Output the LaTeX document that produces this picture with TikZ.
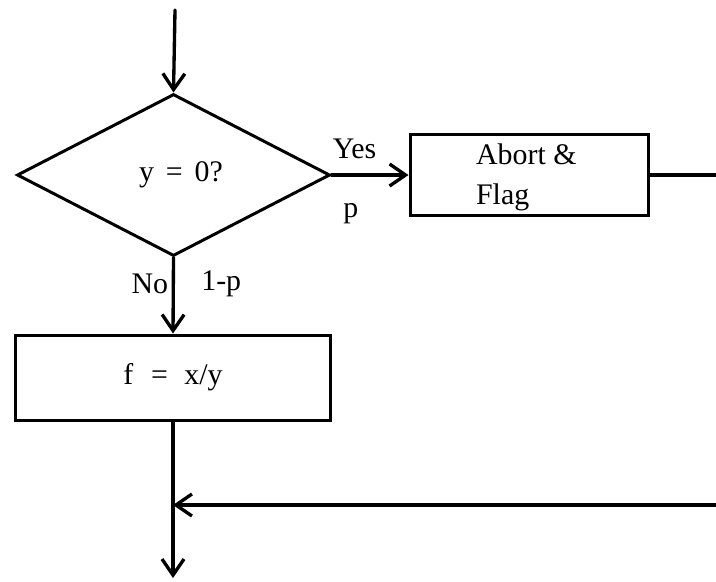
\documentclass[tikz,border=0pt]{standalone}
\usepackage{tikz}
\usepackage{fontspec}
\setmainfont{Liberation Serif}
\usetikzlibrary{shapes.geometric,arrows.meta}
\tikzset{
flowline/.style={line width=1.9pt, line cap=round},
flowarrow/.style={flowline, -{Straight Barb[length=3.2mm,width=4.4mm,line width=1.9pt]}},
testbox/.style={diamond, draw, line width=1.7pt, minimum width=6.26cm, minimum height=3.24cm, inner sep=0pt, font=\flowfont},
stepbox/.style={rectangle, draw, line width=1.7pt, inner sep=0pt, font=\flowfont},
flowlabel/.style={font=\flowfont, inner sep=1pt}
}
\newcommand{\flowfont}{\fontsize{17}{19.5}\selectfont}
\newcommand{\gap}[1]{\hspace{#1em}}

\begin{document}
\begin{tikzpicture}
\useasboundingbox (0,0) rectangle (14.32,-11.62);
% blocks
\node[testbox] (test) at (3.47,-3.5) {\hspace{0.3cm}y\gap{0.4}=\gap{0.4}0?};
\node[stepbox, minimum width=4.76cm, minimum height=1.62cm] (abort) at (10.58,-3.5) {};
\node[flowlabel, align=left, anchor=west] (aborttext) at (9.48,-3.55) {Abort \&\\[3pt]Flag};
\node[stepbox, minimum width=6.3cm, minimum height=1.7cm] (divide) at (3.46,-7.55) {f\gap{0.6}=\gap{0.55}x/y};
% free ends
\coordinate (entry) at (3.5,-0.2);
\coordinate (leave) at (14.32,-3.5);
\coordinate (feed) at (14.32,-10.1);
\coordinate (join) at (3.46,-10.1);
\coordinate (exit) at (3.46,-11.56);
% connectors
\draw[flowarrow] (entry) -- (test.north);
\draw[flowarrow] (test.east) -- (abort.west)
  node[flowlabel, pos=0.3, above=7pt] {Yes}
  node[flowlabel, pos=0.25, below=14pt] {p};
\draw[flowline] (abort.east) -- (leave);
\draw[flowarrow] (test.south) -- (divide.north)
  node[flowlabel, pos=0.35, left=1pt] {No}
  node[flowlabel, pos=0.35, right=14pt] {1-p};
\draw[flowline] (divide.south) -- (join);
\draw[flowarrow] (join) -- (exit);
\draw[flowarrow] (feed) -- (join);
\end{tikzpicture}
\end{document}
